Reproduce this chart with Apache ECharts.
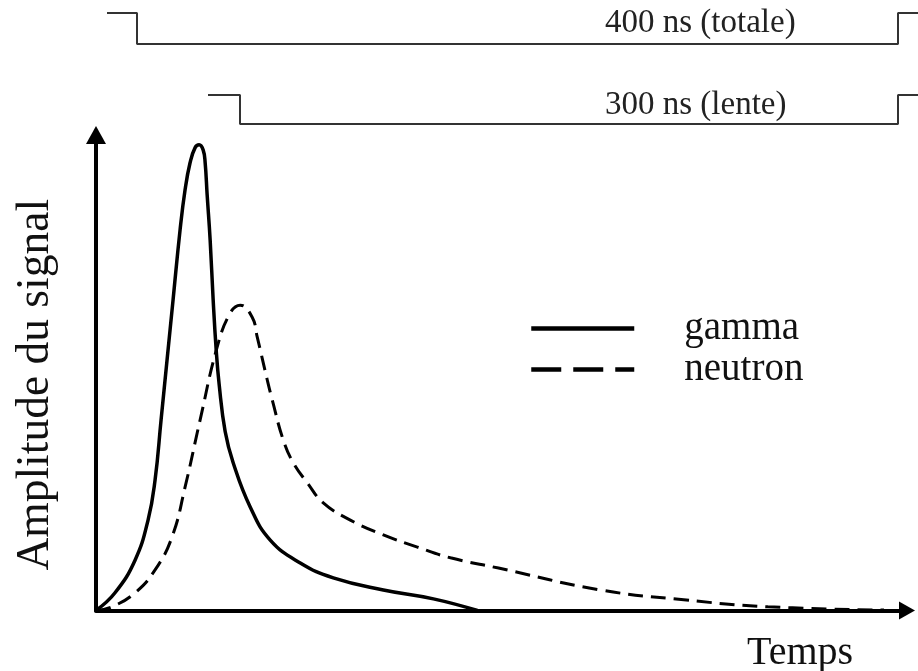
<!DOCTYPE html>
<html>
<head>
<meta charset="utf-8">
<script src="https://cdn.jsdelivr.net/npm/echarts@6/dist/echarts.min.js"></script>
<style>
  html, body { margin: 0; padding: 0; background: #fff; }
  #chart { width: 918px; height: 671px; }
</style>
</head>
<body>
<div id="chart"></div>
<script>
// Signaux gamma / neutron et portes d'intégration (schéma)

// temps (ns, échelle arbitraire), amplitude (u.a., pic gamma = 100)
const gammaData = [
    [0, 0], [9.5, 3.8], [19.5, 10.8], [26, 19.4], [29.5, 28], [32.5, 40.9],
    [35.5, 53.8], [38.5, 66.7], [42, 81.7], [44.5, 90.3], [47, 96.1],
    [49.5, 99.3], [51.5, 99.9], [53.5, 98.8], [54.5, 96.1], [55.5, 89.2],
    [57, 79.5], [58.5, 66.7], [60, 56], [61.5, 48.5], [64.5, 38.4],
    [68.5, 31.7], [77, 22.2], [87, 15.1], [102, 10.2], [118.5, 7],
    [143.5, 4.4], [168.5, 2.5], [190.5, 0]
];
const neutronData = [
    [0, 0], [8, 0.8], [19.5, 3.8], [29.5, 8.7], [38, 15.8], [44.5, 26.5],
    [52, 40.9], [60.5, 56.5], [67, 63.8], [72, 65.5], [78, 62.9], [80.5, 58.7],
    [85.5, 49.5], [88, 45.2], [93.5, 36.6], [98.5, 31.7], [105.5, 27.4],
    [113.5, 23.1], [127, 19.4], [143.5, 16.2], [160.5, 13.6], [177, 11.3],
    [201, 9.1], [252, 4.4], [293.5, 2.3], [335.5, 0.8], [393.5, 0.1]
];

// portes d'intégration (niveau logique, échelle arbitraire)
const gateTotale = [[5.5, 11.7], [20.5, 11.7], [20.5, 8.6], [401, 8.6], [401, 11.7], [411, 11.7]];
const gateLente = [[56, 3.5], [72, 3.5], [72, 0.6], [401, 0.6], [401, 3.5], [411, 3.5]];

const seriesNames = ['gamma', 'neutron'];
const gateLabels = ['400 ns (totale)', '300 ns (lente)'];
const axisNames = ['Temps', 'Amplitude du signal'];

const serif = '"Liberation Serif", "DejaVu Serif", serif';

const chart = echarts.init(document.getElementById('chart'));

const option = {
    backgroundColor: '#ffffff',
    animation: false,
    grid: [
        { left: 96, right: 11, top: 135, bottom: 60.5, outerBoundsMode: 'none' },
        { left: 96, right: 0, top: 0, height: 130, outerBoundsMode: 'none' }
    ],
    xAxis: [
        {
            type: 'value', gridIndex: 0, min: 0, max: 405,
            axisLine: {
                show: true, symbol: ['none', 'triangle'], symbolSize: [18, 16],
                lineStyle: { color: '#000', width: 4 }
            },
            axisTick: { show: false }, axisLabel: { show: false }, splitLine: { show: false }
        },
        {
            type: 'value', gridIndex: 1, min: 0, max: 411, show: false
        }
    ],
    yAxis: [
        {
            type: 'value', gridIndex: 0, min: 0, max: 102,
            name: axisNames[1], nameLocation: 'middle', nameGap: 37,
            nameTextStyle: { fontFamily: serif, fontSize: 45.5, color: '#111', padding: [0, 24, 0, 0] },
            axisLine: {
                show: true, symbol: ['none', 'triangle'], symbolSize: [20, 18],
                lineStyle: { color: '#000', width: 4 }
            },
            axisTick: { show: false }, axisLabel: { show: false }, splitLine: { show: false }
        },
        {
            type: 'value', gridIndex: 1, min: 0, max: 13, show: false
        }
    ],
    legend: {
        orient: 'vertical',
        left: 524,
        top: 303,
        itemWidth: 103,
        itemHeight: 20,
        itemGap: 0,
        textStyle: { fontFamily: serif, fontSize: 39, color: '#111', lineHeight: 41, padding: [0, 0, 0, 45] },
        itemStyle: { color: 'rgba(0,0,0,0)', borderColor: 'rgba(0,0,0,0)', borderWidth: 0 },
        lineStyle: { width: 4.5 },
        data: [
            { name: seriesNames[0] },
            { name: seriesNames[1], lineStyle: { type: [30, 12], width: 4.5 } }
        ]
    },
    graphic: [
        {
            type: 'text', left: 605, top: 7,
            style: { text: gateLabels[0], font: '33px ' + serif, fill: '#222' }
        },
        {
            type: 'text', left: 605, top: 89,
            style: { text: gateLabels[1], font: '33px ' + serif, fill: '#222' }
        },
        {
            type: 'text', left: 747, top: 633,
            style: { text: axisNames[0], font: '40px ' + serif, fill: '#111' }
        }
    ],
    series: [
        {
            name: seriesNames[0], type: 'line', xAxisIndex: 0, yAxisIndex: 0,
            data: gammaData, symbol: 'none', smooth: 0.45,
            lineStyle: { color: '#000', width: 3.5 }, itemStyle: { color: '#000' }
        },
        {
            name: seriesNames[1], type: 'line', xAxisIndex: 0, yAxisIndex: 0,
            data: neutronData, symbol: 'none', smooth: 0.45,
            lineStyle: { color: '#000', width: 3, type: [15, 8] }, itemStyle: { color: '#000' }
        },
        {
            name: 'porte totale', type: 'line', xAxisIndex: 1, yAxisIndex: 1,
            data: gateTotale, symbol: 'none', silent: true,
            lineStyle: { color: '#333', width: 2 }
        },
        {
            name: 'porte lente', type: 'line', xAxisIndex: 1, yAxisIndex: 1,
            data: gateLente, symbol: 'none', silent: true,
            lineStyle: { color: '#333', width: 2 }
        }
    ]
};

chart.setOption(option);
</script>
</body>
</html>
